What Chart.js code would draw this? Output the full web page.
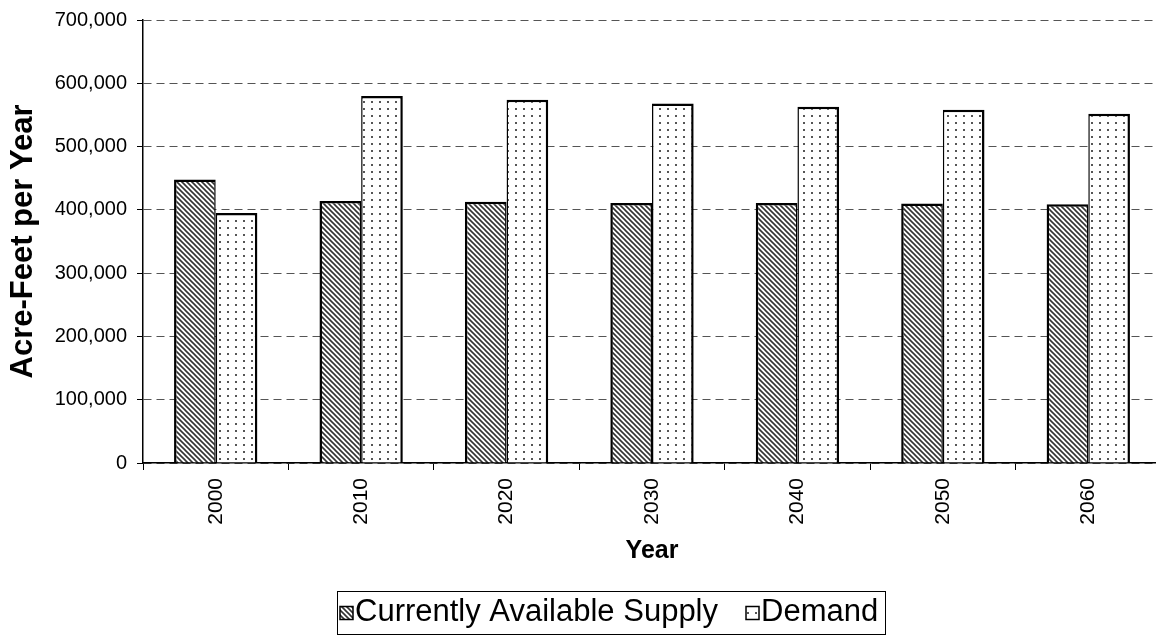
<!DOCTYPE html>
<html>
<head>
<meta charset="utf-8">
<script src="https://cdn.jsdelivr.net/npm/chart.js@4.4.0/dist/chart.umd.min.js"></script>
<style>
  html, body { margin: 0; padding: 0; background: #fff; overflow: hidden; }
  #wrap { width: 1156px; height: 638px; overflow: hidden; position: relative; }
  #chart { position: absolute; left: 0; top: 0; }
</style>
</head>
<body>
<div id="wrap"><canvas id="chart" width="1161" height="638"></canvas></div>
<script>
const years = ['2000', '2010', '2020', '2030', '2040', '2050', '2060'];
const supply = [448000, 414000, 413000, 411000, 411000, 410000, 409000];
const demand = [395000, 580000, 574000, 568000, 563000, 558000, 552000];
const seriesNames = ['Currently Available Supply', 'Demand'];
const yMin = 0, yMax = 700000, yStep = 100000;

const FONT = "'Liberation Sans', Arial, sans-serif";

// fill patterns, like the old Excel hatch / dots
function hatchPattern(){
  const c = document.createElement('canvas'); c.width = 5; c.height = 5;
  const g = c.getContext('2d');
  g.fillStyle = '#fff'; g.fillRect(0, 0, 5, 5);
  g.strokeStyle = '#333'; g.lineWidth = 1.6;
  g.beginPath();
  g.moveTo(-1, -1); g.lineTo(6, 6);
  g.moveTo(-1, 4); g.lineTo(1, 6);
  g.moveTo(4, -1); g.lineTo(6, 1);
  g.stroke();
  return g.createPattern(c, 'repeat');
}
function dotPattern(){
  const c = document.createElement('canvas'); c.width = 8; c.height = 7;
  const g = c.getContext('2d');
  g.fillStyle = '#fff'; g.fillRect(0, 0, 8, 7);
  g.fillStyle = '#555';
  g.fillRect(3, 3, 2, 2);
  return g.createPattern(c, 'repeat');
}
const fills = [hatchPattern(), dotPattern()];

// legend with a frame, drawn below the axis title
const legendFrame = {
  id: 'legendFrame',
  afterDraw(chart){
    const ctx = chart.ctx;
    const box = { x: 337, y: 591, w: 548, h: 43 };
    ctx.save();
    ctx.strokeStyle = '#000'; ctx.lineWidth = 1;
    ctx.strokeRect(box.x + 0.5, box.y + 0.5, box.w, box.h);
    ctx.font = '31px ' + FONT;
    ctx.textBaseline = 'middle';
    let x = box.x + 3;
    const cy = box.y + box.h / 2;
    chart.data.datasets.forEach((ds, i) => {
      ctx.fillStyle = ds.backgroundColor;
      ctx.fillRect(x, cy - 6, 13, 13);
      ctx.lineWidth = 1.5; ctx.strokeStyle = '#000';
      ctx.strokeRect(x, cy - 6, 13, 13);
      ctx.fillStyle = '#000';
      ctx.fillText(ds.label, x + 15, cy);
      x += 15 + ctx.measureText(ds.label).width + 28;
    });
    ctx.restore();
  }
};

new Chart(document.getElementById('chart'), {
  type: 'bar',
  data: {
    labels: years,
    datasets: [
      { label: seriesNames[0], data: supply, backgroundColor: fills[0], borderColor: '#000',
        borderWidth: { top: 2.5, left: 2.5, right: 1.5, bottom: 0 } },
      { label: seriesNames[1], data: demand, backgroundColor: fills[1], borderColor: '#000',
        borderWidth: { top: 2.5, left: 1.5, right: 2.5, bottom: 0 } }
    ]
  },
  options: {
    responsive: false,
    animation: false,
    devicePixelRatio: 1,
    layout: { padding: { top: 20, right: 0, bottom: 72, left: 0 } },
    datasets: { bar: { categoryPercentage: 0.573, barPercentage: 1 } },
    plugins: { legend: { display: false }, tooltip: { enabled: false } },
    scales: {
      x: {
        afterFit(scale){ scale.height = 103; },
        grid: { offset: true, drawOnChartArea: false, drawTicks: true, tickLength: 7, tickColor: '#000', tickWidth: 1 },
        border: { color: '#000', width: 1.5 },
        ticks: { color: '#000', font: { family: FONT, size: 21 }, maxRotation: 90, minRotation: 90, autoSkip: false, padding: 8 },
        title: { display: true, text: 'Year', color: '#000', font: { family: FONT, size: 25, weight: 'bold' }, padding: { top: 0, bottom: 0 } }
      },
      y: {
        min: yMin, max: yMax,
        afterFit(scale){ scale.width = 143; scale.paddingTop = 0; scale.paddingBottom = 0; },
        grid: { color: '#555', lineWidth: 1, tickLength: 6, tickColor: '#000', tickWidth: 1, tickBorderDash: [] },
        border: { color: '#000', width: 1.5, dash: [8, 5] },
        ticks: { stepSize: yStep, color: '#000', font: { family: FONT, size: 20 }, padding: 10,
          callback: v => v.toLocaleString('en-US') },
        title: { display: true, text: 'Acre-Feet per Year', color: '#000', font: { family: FONT, size: 31, weight: 'bold' }, padding: { top: 5, bottom: 0 } }
      }
    }
  },
  plugins: [legendFrame]
});
</script>
</body>
</html>
